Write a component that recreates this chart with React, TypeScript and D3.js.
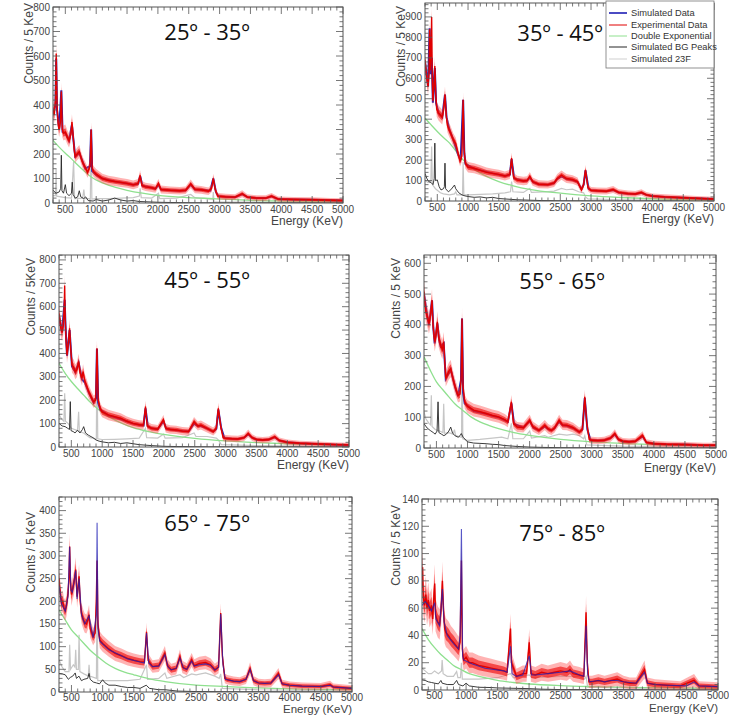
import React from "react";
import * as d3 from "d3";

type P = [number, number];

const titles = ["25º - 35º", "35º - 45º", "45º - 55º", "55º - 65º", "65º - 75º", "75º - 85º"];
const yTitles = ["Counts / 5 KeV", "Counts / 5 KeV", "Counts / 5KeV", "Counts / 5 KeV", "Counts / 5 KeV", "Counts / 5 KeV"];
const xTitle = "Energy (KeV)";
const xTicks = [500, 1000, 1500, 2000, 2500, 3000, 3500, 4000, 4500, 5000];
const yMax = [800, 968, 821, 627, 430, 140];
const yStep = [100, 100, 100, 100, 50, 20];
const legendLabels = ["Simulated Data", "Experimental Data", "Double Exponential", "Simulated BG Peaks", "Simulated 23F"];

// ---------- 25-35 ----------
const exp1: P[] = [[300,380],[320,360],[340,420],[352,610],[365,400],[385,320],[400,300],[420,330],[435,455],[450,300],[470,285],[500,290],[530,270],[560,255],[590,280],[607,330],[625,280],[645,215],[660,190],[690,200],[726,210],[760,180],[790,160],[823,145],[860,125],[900,150],[918,300],[935,140],[960,128],[1000,118],[1100,100],[1200,92],[1300,88],[1400,84],[1500,80],[1600,74],[1680,80],[1712,113],[1740,72],[1800,66],[1900,62],[1960,58],[2009,80],[2050,55],[2200,52],[2350,50],[2450,52],[2532,78],[2600,56],[2700,54],[2820,48],[2870,60],[2898,100],[2930,55],[2970,28],[3100,25],[3250,24],[3367,38],[3450,24],[3600,20],[3750,20],[3842,28],[3950,16],[4200,14],[4500,13],[4800,11],[5000,10]];
const sim1: P[] = [[300,370],[340,400],[352,590],[365,380],[400,300],[435,460],[455,290],[500,285],[560,255],[607,320],[630,260],[660,190],[726,205],[823,140],[900,150],[918,300],[935,130],[1000,115],[1100,100],[1300,88],[1500,80],[1600,75],[1680,78],[1712,110],[1750,70],[1900,62],[1960,58],[2009,75],[2050,55],[2200,52],[2350,50],[2450,52],[2532,75],[2600,55],[2700,54],[2850,50],[2898,100],[2940,45],[2980,28],[3100,25],[3250,24],[3367,36],[3450,24],[3600,20],[3750,20],[3842,27],[3950,16],[4200,14],[4500,13],[4800,11],[5000,10]];
const dexp1: P[] = [[300,256],[400,228],[500,203],[600,180],[700,155],[800,132],[920,106],[1100,82],[1300,65],[1500,52],[1750,40],[2000,31],[2500,22],[2900,18],[3500,11],[4000,8],[5000,5]];
const bg1: P[] = [[300,52],[350,40],[400,45],[425,60],[435,195],[445,50],[470,40],[500,75],[520,40],[560,30],[600,40],[612,85],[625,35],[660,20],[700,25],[726,50],[750,25],[800,18],[830,25],[870,10],[950,8],[1000,14],[1100,8],[1200,12],[1300,20],[1400,12],[1500,8],[1600,10],[1700,6],[1800,5],[2000,3],[2200,2],[2500,1],[3000,0.5],[5000,0.3]];
const f1: P[] = [[300,30],[340,30],[350,140],[360,28],[500,22],[600,20],[634,170],[650,18],[780,20],[800,55],[815,18],[905,18],[918,290],[930,16],[1000,18],[1200,18],[1400,20],[1600,22],[1700,28],[1712,60],[1730,22],[1900,20],[2009,40],[2030,18],[2300,20],[2532,35],[2600,22],[2800,18],[2890,15],[2898,45],[2910,5],[3500,4],[5000,2]];

// ---------- 35-45 ----------
const exp2: P[] = [[300,690],[315,640],[330,600],[350,560],[365,620],[375,840],[385,640],[398,720],[408,900],[418,600],[428,490],[445,560],[460,660],[475,520],[490,450],[520,430],[550,420],[580,410],[600,440],[625,520],[645,420],[665,370],[690,350],[720,330],[760,300],[800,280],[840,230],[870,195],[900,220],[920,495],[935,260],[955,185],[1000,165],[1100,160],[1200,150],[1300,140],[1400,135],[1500,130],[1600,122],[1680,130],[1708,210],[1740,115],[1800,102],[1900,98],[1960,100],[2005,120],[2050,95],[2150,82],[2300,80],[2400,88],[2450,110],[2520,127],[2600,110],[2700,105],[2780,95],[2845,55],[2880,80],[2910,152],[2950,65],[3000,52],[3100,50],[3250,48],[3360,56],[3450,42],[3600,36],[3720,34],[3820,42],[3900,30],[4000,24],[4200,20],[4500,16],[4800,12],[5000,10]];
const sim2: P[] = [[300,680],[350,560],[375,845],[390,620],[410,700],[428,480],[460,650],[480,480],[520,430],[580,410],[625,520],[650,410],[700,345],[760,300],[840,225],[880,200],[920,495],[940,230],[960,180],[1100,158],[1400,135],[1600,122],[1680,128],[1708,205],[1750,110],[1900,98],[1960,100],[2005,115],[2060,92],[2150,82],[2300,80],[2400,88],[2450,108],[2520,120],[2600,108],[2700,102],[2780,94],[2845,58],[2880,80],[2910,150],[2960,60],[3000,52],[3100,50],[3250,48],[3360,54],[3450,42],[3600,36],[3720,34],[3820,40],[3900,30],[4000,24],[4200,20],[4500,16],[4800,12],[5000,10]];
const dexp2: P[] = [[300,405],[400,372],[500,340],[600,310],[700,283],[800,245],[920,201],[1050,165],[1200,136],[1350,113],[1500,95],[1750,73],[2000,57],[2500,38],[3000,25],[3500,17],[4000,11],[5000,5]];
const bg2: P[] = [[300,135],[330,110],[360,95],[400,90],[430,80],[450,110],[460,283],[470,100],[500,103],[530,70],[560,54],[600,60],[615,70],[625,185],[635,60],[680,45],[720,55],[780,78],[800,60],[850,40],[900,30],[950,25],[1000,22],[1100,18],[1200,20],[1300,15],[1400,18],[1500,12],[1600,10],[1700,8],[1800,6],[2000,4],[2200,2],[2500,1],[3000,0.5],[5000,0.3]];
const f2: P[] = [[300,100],[350,90],[395,95],[408,266],[420,80],[470,60],[550,40],[600,35],[700,30],[780,35],[800,45],[820,30],[910,30],[920,190],[932,30],[1000,30],[1200,32],[1400,35],[1600,40],[1690,45],[1708,95],[1730,45],[1900,42],[2005,62],[2030,42],[2250,45],[2400,48],[2520,62],[2600,55],[2700,58],[2800,45],[2880,40],[2910,20],[2950,10],[3500,6],[5000,3]];

// ---------- 45-55 ----------
const exp3: P[] = [[300,570],[315,540],[330,508],[350,490],[370,520],[385,600],[392,690],[400,560],[415,450],[430,394],[450,440],[472,508],[490,420],[510,351],[540,340],[564,322],[590,330],[618,365],[640,320],[672,294],[690,322],[720,280],[750,260],[780,237],[820,215],[860,194],[895,200],[915,422],[935,200],[968,165],[1000,150],[1100,137],[1200,130],[1300,123],[1400,110],[1500,101],[1600,95],[1670,94],[1702,173],[1730,90],[1800,80],[1900,76],[1993,116],[2030,80],[2100,75],[2200,73],[2300,68],[2400,66],[2489,108],[2550,90],[2600,94],[2700,80],[2800,66],[2850,80],[2882,165],[2920,90],[2960,40],[3000,37],[3100,35],[3200,34],[3300,40],[3367,58],[3430,40],[3500,32],[3600,30],[3700,32],[3798,44],[3870,28],[4000,20],[4200,16],[4500,13],[4800,10],[5000,9]];
const sim3: P[] = [[300,560],[350,490],[392,630],[405,520],[430,390],[472,500],[510,345],[564,320],[618,360],[672,290],[720,275],[780,235],[860,190],[900,210],[915,420],[935,190],[968,160],[1100,135],[1200,128],[1400,110],[1500,100],[1670,92],[1702,165],[1740,88],[1800,80],[1900,76],[1993,110],[2040,78],[2200,72],[2300,68],[2400,66],[2489,100],[2550,90],[2600,90],[2700,80],[2800,66],[2850,78],[2882,160],[2930,80],[2980,38],[3100,35],[3200,34],[3300,40],[3367,55],[3430,40],[3500,32],[3600,30],[3700,32],[3798,42],[3870,28],[4000,20],[4200,16],[4500,13],[4800,10],[5000,9]];
const dexp3: P[] = [[300,358],[400,315],[500,280],[600,250],[700,222],[800,193],[920,165],[1050,138],[1200,116],[1350,98],[1500,83],[1750,66],[2000,54],[2500,37],[3000,26],[3500,19],[4000,14],[5000,9]];
const bg3: P[] = [[300,101],[350,90],[400,87],[440,80],[470,75],[483,194],[495,70],[530,66],[560,60],[600,72],[640,60],[680,75],[700,87],[730,60],[780,50],[850,40],[900,30],[950,25],[1000,22],[1100,18],[1200,20],[1300,15],[1400,18],[1500,14],[1600,10],[1700,8],[1800,6],[2000,3],[2200,2],[2500,1],[3000,0.5],[5000,0.3]];
const f3: P[] = [[300,140],[340,120],[380,110],[392,230],[405,110],[450,100],[500,80],[600,70],[618,151],[630,65],[700,60],[800,40],[905,35],[915,410],[928,35],[1000,32],[1200,33],[1400,35],[1600,38],[1702,80],[1720,40],[1900,38],[1993,55],[2020,38],[2300,40],[2489,60],[2520,45],[2700,45],[2850,38],[2882,30],[2930,10],[3500,6],[5000,3]];

// ---------- 55-65 ----------
const exp4: P[] = [[300,508],[315,470],[330,443],[350,430],[380,405],[405,430],[429,480],[445,400],[472,345],[495,370],[515,410],[535,360],[569,334],[595,320],[617,345],[635,280],[650,226],[680,240],[700,250],[730,258],[760,230],[800,200],[848,171],[880,175],[898,230],[912,421],[928,200],[955,150],[1000,135],[1100,123],[1200,118],[1300,112],[1400,106],[1500,101],[1600,92],[1650,85],[1707,150],[1740,80],[1800,68],[1900,66],[2002,90],[2050,70],[2150,57],[2244,74],[2300,62],[2350,57],[2400,65],[2475,90],[2530,75],[2600,74],[2700,66],[2800,52],[2850,60],[2888,166],[2920,80],[2960,28],[3000,25],[3100,24],[3200,25],[3300,32],[3372,47],[3430,28],[3500,22],[3600,20],[3700,22],[3818,41],[3880,18],[4000,14],[4200,12],[4500,11],[4800,9],[5000,9]];
const sim4: P[] = [[300,500],[350,430],[380,400],[429,480],[450,390],[472,340],[515,405],[545,350],[569,330],[617,340],[650,225],[730,255],[800,198],[848,168],[895,220],[912,421],[930,180],[955,145],[1100,120],[1300,111],[1400,105],[1500,100],[1650,85],[1707,145],[1750,78],[1900,66],[2002,88],[2060,66],[2150,57],[2244,70],[2300,61],[2350,57],[2400,64],[2475,86],[2530,74],[2600,72],[2700,65],[2800,52],[2850,60],[2888,162],[2930,60],[2980,26],[3100,24],[3200,25],[3300,32],[3372,44],[3430,28],[3500,22],[3600,20],[3700,22],[3818,38],[3880,18],[4000,14],[4200,12],[4500,11],[4800,9],[5000,9]];
const dexp4: P[] = [[300,296],[400,253],[500,215],[600,190],[700,166],[800,143],[920,123],[1050,102],[1200,85],[1350,73],[1500,63],[1750,50],[2000,41],[2500,28],[3000,20],[3500,15],[4000,11],[5000,8]];
const bg4: P[] = [[300,79],[350,65],[400,57],[450,50],[480,45],[510,55],[526,150],[540,50],[580,45],[620,40],[660,45],[700,55],[730,68],[760,48],[800,40],[850,35],[880,40],[900,47],[930,35],[1000,20],[1100,16],[1200,15],[1300,14],[1400,12],[1500,11],[1600,8],[1800,5],[2000,3],[2200,2],[2500,1],[3000,0.5],[5000,0.3]];
const f4: P[] = [[300,117],[330,95],[380,80],[405,75],[418,171],[430,70],[480,60],[550,55],[605,50],[617,144],[630,48],[700,50],[770,45],[790,60],[810,40],[905,35],[912,400],[925,30],[1000,25],[1200,28],[1400,32],[1550,35],[1650,30],[1707,80],[1730,30],[1900,30],[2002,55],[2030,32],[2244,40],[2300,35],[2475,45],[2600,42],[2700,45],[2800,40],[2870,30],[2888,40],[2920,10],[3500,6],[5000,3]];

// ---------- 65-75 ----------
const exp5: P[] = [[300,250],[310,230],[325,215],[340,195],[360,200],[380,185],[400,180],[420,190],[445,218],[460,250],[471,321],[485,240],[500,215],[514,225],[540,240],[568,270],[580,235],[590,210],[605,230],[622,255],[640,200],[660,174],[690,160],[713,152],[740,150],[765,160],[782,170],[800,140],[847,122],[880,130],[898,200],[911,290],[925,150],[954,115],[1000,107],[1100,95],[1200,85],[1300,80],[1400,74],[1500,70],[1600,67],[1670,66],[1704,133],[1730,70],[1800,56],[1900,58],[1999,85],[2040,58],[2100,49],[2180,52],[2240,78],[2280,55],[2350,50],[2428,71],[2470,58],[2550,63],[2650,65],[2730,60],[2800,49],[2860,55],[2894,174],[2920,80],[2960,30],[3000,27],[3100,24],[3200,23],[3300,28],[3365,52],[3420,25],[3500,20],[3600,19],[3700,20],[3821,41],[3880,18],[4000,15],[4200,13],[4500,12],[4650,16],[4700,11],[5000,8]];
const sim5: P[] = [[300,235],[340,195],[400,178],[445,212],[471,320],[490,225],[514,220],[568,268],[590,205],[622,250],[660,170],[713,150],[782,168],[847,120],[900,170],[911,373],[925,140],[954,112],[1100,93],[1300,80],[1400,73],[1600,66],[1670,64],[1704,130],[1740,64],[1800,56],[1900,57],[1999,82],[2050,55],[2100,49],[2180,52],[2240,75],[2300,52],[2350,50],[2428,68],[2470,57],[2550,60],[2650,62],[2730,59],[2800,48],[2860,55],[2894,172],[2930,60],[2970,28],[3100,24],[3200,23],[3300,28],[3365,50],[3420,25],[3500,20],[3600,19],[3700,20],[3821,38],[3880,18],[4000,15],[4200,13],[4500,12],[4650,15],[4700,11],[5000,8]];
const dexp5: P[] = [[300,181],[400,159],[500,137],[600,122],[700,107],[800,92],[920,78],[1050,64],[1200,52],[1350,44],[1500,38],[1750,29],[2000,23],[2500,15],[3000,12],[3500,9],[4000,7],[5000,5]];
const bg5: P[] = [[300,41],[350,40],[400,38],[450,28],[480,32],[520,35],[560,42],[580,30],[620,35],[660,25],[700,28],[760,30],[782,41],[800,28],[850,22],[900,20],[950,18],[1000,27],[1040,20],[1100,15],[1200,15],[1300,12],[1400,10],[1500,10],[1600,8],[1700,15],[1750,8],[1900,5],[2000,5],[2200,2],[2500,1],[3000,0.5],[5000,0.3]];
const f5: P[] = [[300,71],[350,55],[400,45],[460,45],[471,104],[485,50],[530,60],[555,55],[568,93],[580,50],[610,50],[622,126],[635,45],[700,40],[770,35],[782,60],[795,35],[900,30],[911,250],[922,25],[1000,25],[1200,25],[1400,25],[1600,28],[1704,60],[1720,28],[1900,30],[1999,42],[2030,30],[2240,38],[2300,32],[2428,40],[2500,38],[2650,42],[2800,35],[2870,30],[2894,40],[2920,8],[3500,5],[5000,2]];

// ---------- 75-85 ----------
const exp6: P[] = [[300,75],[310,90],[320,68],[340,62],[360,70],[380,60],[400,66],[420,58],[450,62],[470,52],[490,70],[502,78],[515,55],[550,50],[580,48],[605,60],[624,80],[640,60],[660,45],[680,42],[720,40],[760,37],[800,35],[850,32],[880,30],[905,35],[926,95],[940,30],[960,22],[1000,24],[1050,20],[1100,20],[1200,18],[1300,17],[1400,16],[1500,15],[1600,14],[1650,13],[1706,45],[1720,20],[1800,10],[1900,12],[1960,12],[2003,35],[2030,12],[2100,11],[2200,13],[2300,12],[2400,13],[2500,14],[2600,13],[2650,15],[2700,12],[2800,11],[2870,10],[2905,57],[2925,20],[2950,6],[3000,6],[3100,7],[3200,6],[3300,7],[3400,8],[3500,6],[3600,5],[3700,5],[3833,15],[3880,5],[4000,4],[4200,3.5],[4400,3],[4620,7],[4700,3],[5000,2.5]];
const sim6: P[] = [[300,62],[350,65],[400,62],[450,58],[502,64],[520,52],[580,47],[624,74],[650,50],[700,40],[800,34],[880,30],[905,40],[926,118],[945,25],[960,22],[1100,19],[1300,16],[1600,14],[1650,13],[1706,32],[1730,12],[1800,10],[1900,11],[2003,25],[2040,11],[2100,11],[2300,12],[2500,13],[2650,14],[2800,11],[2870,10],[2905,47],[2930,12],[2960,6],[3100,7],[3200,6],[3300,7],[3400,7],[3500,6],[3700,5],[3833,13],[3880,5],[4000,4],[4200,3.5],[4500,3],[4620,6],[4700,3],[5000,2.5]];
const dexp6: P[] = [[300,45],[400,37],[500,31],[600,26],[700,22],[800,18],[920,15],[1050,12],[1200,10],[1350,8.5],[1500,7],[1750,5.5],[2000,4.4],[2500,3.2],[3000,2.5],[4000,1.7],[5000,1.2]];
const bg6: P[] = [[300,7.4],[350,7],[400,6],[450,5.5],[500,5],[560,4.5],[600,7],[620,5],[700,4],[800,4],[850,7],[880,4],[950,3],[1000,5],[1050,3],[1200,2],[1400,1.8],[1500,1.5],[1800,1.2],[2000,1],[2200,0.6],[2500,0.3],[3000,0.2],[5000,0.1]];
const f6: P[] = [[300,16],[350,14],[400,12],[450,12],[500,14],[560,12],[610,14],[620,22],[635,12],[700,10],[800,10],[850,13.5],[870,9],[910,9],[926,20],[940,8],[1000,8],[1200,8],[1500,9],[1706,12],[1750,9],[2003,11],[2050,9],[2500,10],[2800,10],[2880,8],[2905,10],[2930,2],[3500,1.5],[5000,1]];

const expData = [exp1, exp2, exp3, exp4, exp5, exp6];
const simData = [sim1, sim2, sim3, sim4, sim5, sim6];
const dexpData = [dexp1, dexp2, dexp3, dexp4, dexp5, dexp6];
const bgData = [bg1, bg2, bg3, bg4, bg5, bg6];
const fData = [f1, f2, f3, f4, f5, f6];

// layout (pixel frames)
const frames = [
  { x0: 53, x1: 343, y0: 7, y1: 203, tx: 207, ty: 40, xl: 225, tl: 10, xf: 12, yl: 30 },
  { x0: 425, x1: 714, y0: 3, y1: 201, tx: 560, ty: 41, xl: 223, tl: 10, xf: 12, yl: 402 },
  { x0: 59, x1: 349, y0: 255, y1: 447, tx: 207, ty: 288, xl: 469, tl: 10, xf: 12, yl: 32 },
  { x0: 424, x1: 716, y0: 255, y1: 448, tx: 562, ty: 289, xl: 472, tl: 10, xf: 12, yl: 397 },
  { x0: 59, x1: 352, y0: 497, y1: 692, tx: 207, ty: 531, xl: 713, tl: 9, xf: 11.5, yl: 32 },
  { x0: 422, x1: 718, y0: 499, y1: 690, tx: 562, ty: 541, xl: 712, tl: 9, xf: 11.5, yl: 397 },
];
const yLabelTop = [3, 6, 258, 258, 512, 505];
const simOnTop = [false, false, false, false, true, true];

const COL = { sim: "#1f1fb4", exp: "#e00000", band: "#ff4a4a", inner: "#f01010", dexp: "#8fe08f", bg: "#262626", f: "#c6c6c6" };
const FONT = "'Liberation Sans', Arial, sans-serif";

function Panel({ i }: { i: number }) {
  const fr = frames[i];
  const xs = d3.scaleLinear().domain([300, 5000]).range([fr.x0, fr.x1]);
  const ys = d3.scaleLinear().domain([0, yMax[i]]).range([fr.y1, fr.y0]);
  const line = d3.line<P>().x((d) => xs(d[0])).y((d) => ys(d[1]));
  const smooth = d3.line<P>().x((d) => xs(d[0])).y((d) => ys(d[1])).curve(d3.curveMonotoneX);
  const err = (v: number) => 1.5 * Math.sqrt(Math.max(v, 0)) + yMax[i] * 0.006;
  const bandOf = (k: number) =>
    d3
      .area<P>()
      .x((d) => xs(d[0]))
      .y0((d) => ys(Math.max(0, d[1] - k * err(d[1]))))
      .y1((d) => ys(d[1] + k * err(d[1])));
  const clipId = `clip${i}`;

  const xMinor = d3.range(300, 5001, 100);
  const step = yStep[i];
  const yMajor = d3.range(0, yMax[i] + 0.001, step);
  const yMinor = d3.range(0, yMax[i] + 0.001, step / 5);
  const MJ = 7, MN = 3.5;
  const tickCol = "#555";

  const simPath = (
    <path
      d={line(simData[i]) || ""}
      fill="none"
      stroke={COL.sim}
      strokeWidth={simOnTop[i] ? 1.1 : 2}
      strokeOpacity={simOnTop[i] ? 0.75 : 1}
    />
  );

  return (
    <g>
      <defs>
        <clipPath id={clipId}>
          <rect x={fr.x0} y={fr.y0} width={fr.x1 - fr.x0} height={fr.y1 - fr.y0} />
        </clipPath>
      </defs>
      <rect x={fr.x0} y={fr.y0} width={fr.x1 - fr.x0} height={fr.y1 - fr.y0} fill="#fff" />
      <g clipPath={`url(#${clipId})`}>
        <path d={line(fData[i]) || ""} fill="none" stroke={COL.f} strokeWidth={1.2} />
        <path d={line(bgData[i]) || ""} fill="none" stroke={COL.bg} strokeWidth={0.9} />
        <path d={smooth(dexpData[i]) || ""} fill="none" stroke={COL.dexp} strokeWidth={1.3} />
        {!simOnTop[i] && simPath}
        <path d={bandOf(1)(expData[i]) || ""} fill={COL.band} fillOpacity={0.42} stroke="none" />
        <path d={bandOf(0.5)(expData[i]) || ""} fill={COL.inner} fillOpacity={0.65} stroke="none" />
        <path d={line(expData[i]) || ""} fill="none" stroke={COL.exp} strokeWidth={1.4} />
        {simOnTop[i] && simPath}
      </g>
      {/* ticks */}
      <g stroke={tickCol} strokeWidth={0.8}>
        {xMinor.map((v) => {
          const major = v % 500 === 0;
          const L = major ? MJ : MN;
          const x = xs(v);
          return (
            <g key={"x" + v}>
              <line x1={x} x2={x} y1={fr.y1} y2={fr.y1 - L} />
              <line x1={x} x2={x} y1={fr.y0} y2={fr.y0 + L} />
            </g>
          );
        })}
        {yMinor.map((v, k) => {
          const major = k % 5 === 0;
          const L = major ? MJ : MN;
          const y = ys(v);
          return (
            <g key={"y" + k}>
              <line x1={fr.x0} x2={fr.x0 + L} y1={y} y2={y} />
              <line x1={fr.x1} x2={fr.x1 - L} y1={y} y2={y} />
            </g>
          );
        })}
      </g>
      <rect x={fr.x0} y={fr.y0} width={fr.x1 - fr.x0} height={fr.y1 - fr.y0} fill="none" stroke="#555" strokeWidth={1} />
      {/* tick labels */}
      <g fontFamily={FONT} fontSize={10} fill="#444">
        {xTicks.map((v) => (
          <text key={"xl" + v} x={xs(v)} y={fr.y1 + fr.tl} textAnchor="middle">
            {v}
          </text>
        ))}
        {yMajor.map((v) => (
          <text key={"yl" + v} x={fr.x0 - 3} y={ys(v) + 3.5} textAnchor="end">
            {v}
          </text>
        ))}
      </g>
      <text x={fr.x1} y={fr.xl} textAnchor="end" fontFamily={FONT} fontSize={fr.xf} fill="#444">
        {xTitle}
      </text>
      <text
        transform={`translate(${fr.yl},${yLabelTop[i]}) rotate(-90)`}
        textAnchor="end"
        dominantBaseline="middle"
        fontFamily={FONT}
        fontSize={12}
        fill="#444"
      >
        {yTitles[i]}
      </text>
      <text x={fr.tx} y={fr.ty} textAnchor="middle" fontFamily="'Open Sans', sans-serif" fontSize={22} fill="#111">
        {titles[i]}
      </text>
    </g>
  );
}

function Legend() {
  const x0 = 606, x1 = 714, y0 = 1, y1 = 68;
  const rows = [13, 25, 36, 47, 59];
  const cols = [COL.sim, COL.exp, COL.dexp, COL.bg, "#cfcfcf"];
  const widths = [1.6, 1, 1, 1, 1];
  return (
    <g>
      <rect x={x0} y={y0} width={x1 - x0} height={y1 - y0} fill="#fff" stroke="#777" strokeWidth={0.8} />
      {legendLabels.map((lab, k) => (
        <g key={lab}>
          <line x1={609} x2={627} y1={rows[k]} y2={rows[k]} stroke={cols[k]} strokeWidth={widths[k]} />
          <text x={631} y={rows[k] + 3.3} fontFamily={FONT} fontSize={9.3} fill="#333">
            {lab}
          </text>
        </g>
      ))}
    </g>
  );
}

export default function App() {
  return (
    <svg width={729} height={715} style={{ position: "absolute", left: 0, top: 0, background: "#fff" }}>
      <rect x={0} y={0} width={729} height={715} fill="#fff" />
      {[0, 1, 2, 3, 4, 5].map((i) => (
        <Panel key={i} i={i} />
      ))}
      <Legend />
    </svg>
  );
}
